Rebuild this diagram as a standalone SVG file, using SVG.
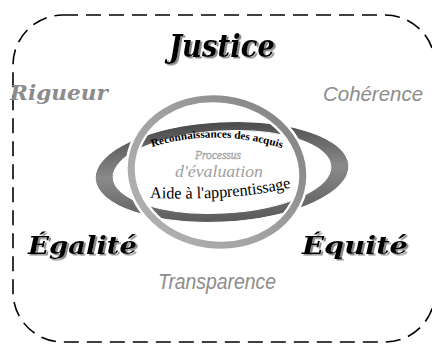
<svg xmlns="http://www.w3.org/2000/svg" width="432" height="346" viewBox="0 0 432 346">
<defs>
<linearGradient id="ringGrad" x1="0" y1="1" x2="1" y2="0">
<stop offset="0" stop-color="#b4b4b4"/>
<stop offset="0.5" stop-color="#a0a0a0"/>
<stop offset="1" stop-color="#7e7e7e"/>
</linearGradient>
<linearGradient id="bandGrad" x1="0" y1="0" x2="0" y2="1">
<stop offset="0" stop-color="#4a4a4a"/>
<stop offset="0.5" stop-color="#8a8a8a"/>
<stop offset="1" stop-color="#5a5a5a"/>
</linearGradient>
<filter id="shadow" x="-10%" y="-20%" width="130%" height="150%">
<feDropShadow dx="2" dy="1.5" stdDeviation="0.6" flood-color="#8a8a8a" flood-opacity="1"/>
</filter>
<path id="arcTop" d="M152,147 Q217,127 284,149"/>
<path id="arcBottom" d="M150,198 Q240,201 293,187"/>
</defs>
<style>
.big{font-family:"DejaVu Serif","Liberation Serif",serif;font-weight:bold;font-style:italic;fill:#000;filter:url(#shadow)}
.side{font-family:"DejaVu Serif","Liberation Serif",serif;font-weight:bold;font-style:italic;fill:#8c8c8c}
.sans{font-family:"Liberation Sans","DejaVu Sans",sans-serif;font-style:italic;fill:#8c8c8c}
.inner{font-family:"Liberation Serif","DejaVu Serif",serif}
</style>

<g id="frame">
<rect x="13" y="15" width="422" height="327" rx="50" ry="50" fill="none" stroke="#000" stroke-width="1.6" stroke-dasharray="15 8"/>
</g>

<g id="rings">
<g transform="rotate(-3 222 172)">
<path d="M95,172 a127,50 0 1,0 254,0 a127,50 0 1,0 -254,0 Z M113,172 a109,41 0 1,0 218,0 a109,41 0 1,0 -218,0 Z" fill="url(#bandGrad)" fill-rule="evenodd" stroke="#fff" stroke-width="1"/>
</g>
<g transform="rotate(8 217 172)">
<ellipse cx="217" cy="172" rx="86" ry="73" fill="none" stroke="#fff" stroke-width="12"/>
<ellipse cx="217" cy="172" rx="86" ry="73" fill="none" stroke="url(#ringGrad)" stroke-width="7"/>
</g>
</g>

<g id="justice"><text class="big" x="222" y="57" font-size="31" text-anchor="middle" textLength="106" lengthAdjust="spacingAndGlyphs">Justice</text></g>
<g id="rigueur"><text class="side" x="10" y="100" font-size="21" textLength="98" lengthAdjust="spacingAndGlyphs">Rigueur</text></g>
<g id="coherence"><text class="sans" x="323" y="101" font-size="21" textLength="100" lengthAdjust="spacingAndGlyphs">Cohérence</text></g>
<g id="egalite"><text class="big" x="28" y="254" font-size="25" textLength="109" lengthAdjust="spacingAndGlyphs">Égalité</text></g>
<g id="equite"><text class="big" x="302" y="254" font-size="25" textLength="106" lengthAdjust="spacingAndGlyphs">Équité</text></g>
<g id="transparence"><text class="sans" x="158" y="289" font-size="22" textLength="118" lengthAdjust="spacingAndGlyphs">Transparence</text></g>

<g id="center">
<text class="inner" font-size="11" font-weight="bold" fill="#000"><textPath href="#arcTop" textLength="132" lengthAdjust="spacingAndGlyphs">Reconnaissances des acquis</textPath></text>
<text class="inner" x="218" y="159" font-size="12" font-style="italic" fill="#c4c4c4" stroke="#9a9a9a" stroke-width="0.4" text-anchor="middle" textLength="46" lengthAdjust="spacingAndGlyphs">Processus</text>
<text class="inner" x="175" y="177" font-size="16.5" font-style="italic" fill="#a0a0a0" textLength="88" lengthAdjust="spacingAndGlyphs">d'évaluation</text>
<text class="inner" font-size="16.5" fill="#000"><textPath href="#arcBottom" textLength="142" lengthAdjust="spacingAndGlyphs">Aide à l'apprentissage</textPath></text>
</g>
</svg>
